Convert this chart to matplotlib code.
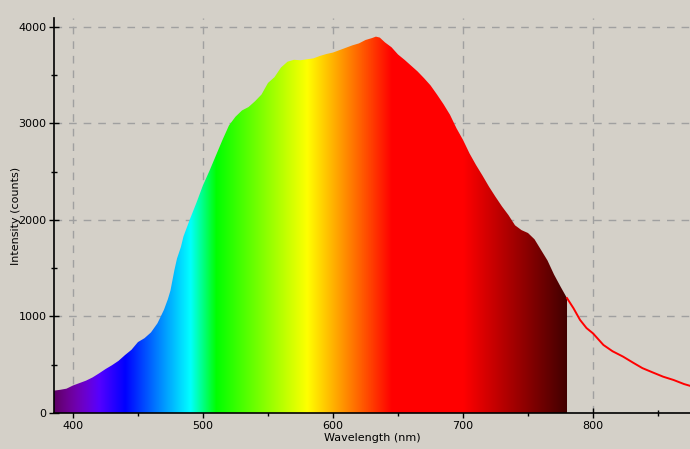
import numpy as np
import matplotlib
matplotlib.use('Agg')
import matplotlib.pyplot as plt
from matplotlib.patches import Polygon
from matplotlib.ticker import MultipleLocator

# ---- data ----
wavelength = [385, 390, 395, 400, 405, 410, 415, 420, 425, 430, 435, 440, 445, 450,
              455, 460, 465, 470, 473, 475, 478, 480, 483, 485, 490, 495, 500, 505,
              510, 515, 520, 525, 530, 535, 540, 545, 550, 555, 560, 565, 570, 575,
              580, 585, 590, 595, 600, 605, 610, 615, 620, 625, 630, 633, 636, 640,
              645, 650, 655, 660, 665, 670, 675, 680, 685, 690, 695, 700, 705, 710,
              715, 720, 725, 730, 735, 740, 745, 750, 755, 760, 765, 770, 775, 780,
              785, 790, 795, 800, 808, 815, 823, 831, 838, 846, 854, 862, 870, 875]
intensity = [231, 240, 252, 285, 310, 335, 368, 410, 455, 495, 540, 600, 655, 735,
             775, 835, 930, 1070, 1180, 1270, 1480, 1600, 1720, 1830, 2010, 2180, 2360, 2510,
             2670, 2830, 2980, 3070, 3135, 3170, 3230, 3300, 3420, 3480, 3580, 3640, 3660, 3655,
             3665, 3675, 3700, 3720, 3735, 3760, 3785, 3810, 3830, 3865, 3885, 3900, 3890, 3840,
             3790, 3715, 3660, 3600, 3540, 3470, 3395, 3300, 3200, 3090, 2950, 2830, 2690, 2570,
             2460, 2345, 2240, 2140, 2050, 1945, 1895, 1865, 1800, 1690, 1580, 1435, 1310, 1190,
             1085, 965, 880, 825, 705, 640, 585, 520, 465, 420, 376, 342, 300, 280]
visible_end = 780
x_ticks = [400, 500, 600, 700, 800]
y_ticks = [0, 1000, 2000, 3000, 4000]

BG = '#d4d0c8'


def wl_rgb(w):
    if w < 440:
        r, g, b = -(w - 440) / 60.0, 0.0, 1.0
    elif w < 490:
        r, g, b = 0.0, (w - 440) / 50.0, 1.0
    elif w < 510:
        r, g, b = 0.0, 1.0, -(w - 510) / 20.0
    elif w < 580:
        r, g, b = (w - 510) / 70.0, 1.0, 0.0
    elif w < 645:
        r, g, b = 1.0, -(w - 645) / 65.0, 0.0
    else:
        r, g, b = 1.0, 0.0, 0.0
    if w < 420:
        f = 0.3 + 0.7 * (w - 380) / 40.0
    elif w > 700:
        f = 0.25 + 0.75 * (780 - w) / 80.0
    else:
        f = 1.0
    return [min(1, max(0, c * f)) for c in (r, g, b)]


wl = np.array(wavelength, float)
it = np.array(intensity, float)

fig = plt.figure(figsize=(6.9, 4.49), dpi=100, facecolor=BG)
ax = fig.add_axes([54 / 690, 36 / 449, 636 / 690, 395 / 449])
ax.set_facecolor(BG)

xmin, xmax = 385.4, 874.6
ymax = 4093

# coloured spectrum clipped by the curve
grad_x = np.linspace(xmin, visible_end, 800)
img = np.array([[wl_rgb(w) for w in grad_x]])
im = ax.imshow(img, extent=[xmin, visible_end, 0, ymax], aspect='auto',
               origin='lower', interpolation='bilinear', zorder=2)
mask = wl <= visible_end
px = list(wl[mask]) + [visible_end, visible_end, wl[0]]
end_val = np.interp(visible_end, wl, it)
py = list(it[mask]) + [end_val, 0, 0]
poly = Polygon(np.column_stack([px, py]), closed=True, facecolor='none',
               edgecolor='none', transform=ax.transData)
ax.add_patch(poly)
im.set_clip_path(poly)

# red line for the rest of the curve
tail = wl >= visible_end
ax.plot(wl[tail], it[tail], color='#ff0000', lw=1.4, zorder=3)

ax.set_xlim(xmin, xmax)
ax.set_ylim(0, ymax)
ax.set_xticks(x_ticks)
ax.set_yticks(y_ticks)
ax.xaxis.set_minor_locator(MultipleLocator(50))
ax.yaxis.set_minor_locator(MultipleLocator(500))
ax.tick_params(which='major', direction='inout', length=7, width=1, labelsize=8,
               pad=2, colors='black')
ax.tick_params(which='minor', direction='inout', length=5, width=1)
ax.grid(True, which='major', color='#a0a0a0', linestyle=(0, (5.5, 5)), lw=1, zorder=0)
ax.set_axisbelow(True)
for s in ['top', 'right']:
    ax.spines[s].set_visible(False)
for s in ['left', 'bottom']:
    ax.spines[s].set_linewidth(1.2)
    ax.spines[s].set_zorder(5)

ax.set_xlabel('Wavelength (nm)', fontsize=8, labelpad=2)
ax.set_ylabel('Intensity (counts)', fontsize=8, labelpad=-2)

fig.savefig('out.png', dpi=100, facecolor=BG)
